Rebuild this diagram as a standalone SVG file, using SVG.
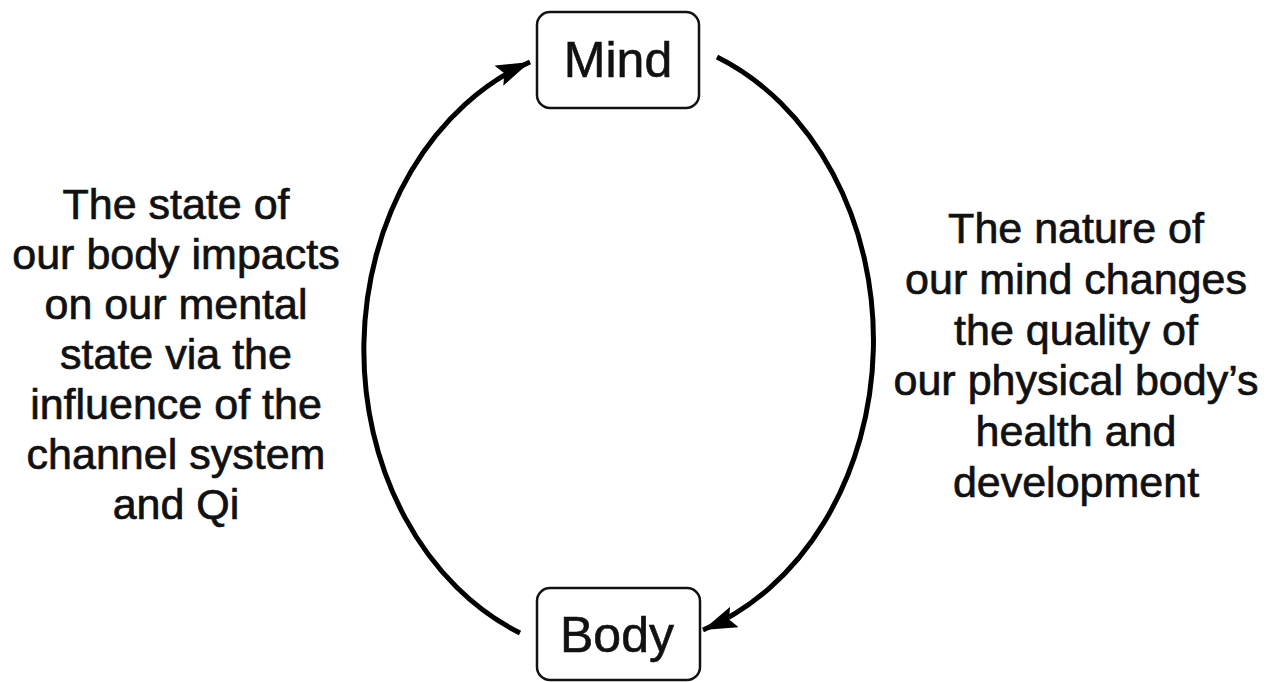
<svg xmlns="http://www.w3.org/2000/svg" width="1270" height="682" viewBox="0 0 1270 682">
  <style>
    .box { fill: #ffffff; stroke: #111111; stroke-width: 2.5; }
    .label { font-family: "Liberation Sans", Arial, sans-serif; font-size: 50px; fill: #111111; stroke: #111111; stroke-width: 0.6; text-anchor: middle; }
    .desc { font-family: "Liberation Sans", Arial, sans-serif; font-size: 43px; fill: #111111; stroke: #111111; stroke-width: 0.7; text-anchor: middle; }
    .conn { fill: none; stroke: #000000; stroke-width: 5; }
  </style>
  <defs>
    <marker id="arrow" markerUnits="userSpaceOnUse" markerWidth="36" markerHeight="24" refX="34" refY="11" orient="auto">
      <path d="M0,0 L34,11 L0,22 L6,11 z" fill="#000000"/>
    </marker>
  </defs>
  <rect width="1270" height="682" fill="#ffffff"/>

  <g id="connectors">
    <path class="conn" d="M520,633 A251.5,306 0 0 1 530,62" marker-end="url(#arrow)"/>
    <path class="conn" d="M717,57 A251.5,306 0 0 1 703,630" marker-end="url(#arrow)"/>
  </g>

  <g id="node-mind">
    <rect class="box" x="537" y="12" width="162" height="96" rx="13"/>
    <text class="label" x="618" y="77">Mind</text>
  </g>

  <g id="node-body">
    <rect class="box" x="537" y="588" width="163" height="92" rx="13"/>
    <text class="label" x="617" y="652">Body</text>
  </g>

  <g id="text-left">
    <text class="desc" x="176" y="219">The state of</text>
    <text class="desc" x="176" y="269">our body impacts</text>
    <text class="desc" x="176" y="319">on our mental</text>
    <text class="desc" x="176" y="369">state via the</text>
    <text class="desc" x="176" y="419">influence of the</text>
    <text class="desc" x="176" y="469">channel system</text>
    <text class="desc" x="176" y="519">and Qi</text>
  </g>

  <g id="text-right">
    <text class="desc" x="1076" y="243">The nature of</text>
    <text class="desc" x="1076" y="294">our mind changes</text>
    <text class="desc" x="1076" y="345">the quality of</text>
    <text class="desc" x="1076" y="395">our physical body’s</text>
    <text class="desc" x="1076" y="446">health and</text>
    <text class="desc" x="1076" y="497">development</text>
  </g>
</svg>
